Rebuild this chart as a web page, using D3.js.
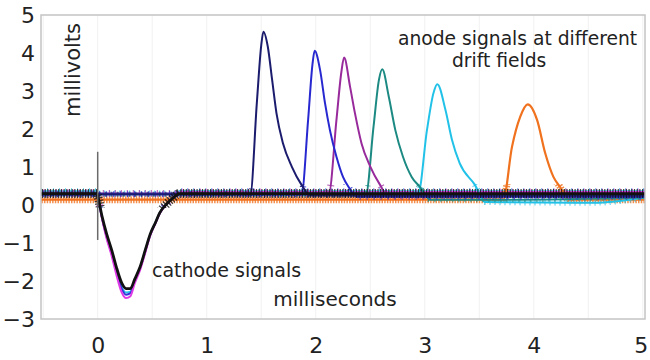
<!DOCTYPE html>
<html>
<head>
<meta charset="utf-8">
<script src="https://cdn.jsdelivr.net/npm/d3@7"></script>
<style>
  body { margin: 0; background: #fff; }
  text { font-family: "DejaVu Sans", sans-serif; fill: #222; }
</style>
</head>
<body>
<div class="chart_container"></div>
<script>
// tick labels
const xTicks = [0, 1, 2, 3, 4, 5]
const yTicks = [-3, -2, -1, 0, 1, 2, 3, 4, 5]

// anode signals (ms, mV)
const navyTime = [-0.52, 1.40, 1.46, 1.50, 1.52, 1.56, 1.60, 1.64, 1.70, 1.78, 1.87, 1.95, 5.02]
const navyMv   = [0.28, 0.28, 2.70, 4.20, 4.56, 4.17, 3.29, 2.41, 1.62, 1.01, 0.53, 0.25, 0.25]

const blueTime = [-0.52, 1.87, 1.93, 1.97, 1.99, 2.04, 2.085, 2.13, 2.19, 2.25, 2.30, 2.38, 5.02]
const blueMv   = [0.28, 0.28, 2.24, 3.70, 4.06, 3.55, 2.68, 1.97, 1.27, 0.74, 0.48, 0.22, 0.22]

const purpleTime = [-0.52, 2.12, 2.19, 2.235, 2.26, 2.315, 2.36, 2.42, 2.50, 2.59, 2.66, 5.02]
const purpleMv   = [0.30, 0.30, 2.24, 3.50, 3.88, 3.11, 2.41, 1.62, 1.01, 0.53, 0.25, 0.25]

const tealTime = [-0.52, 2.46, 2.53, 2.58, 2.61, 2.67, 2.73, 2.80, 2.88, 2.955, 3.05, 3.70, 5.02]
const tealMv   = [0.28, 0.28, 2.06, 3.30, 3.57, 2.85, 1.97, 1.27, 0.74, 0.48, 0.14, 0.14, 0.20]

const cyanTime = [-0.52, 2.94, 3.02, 3.08, 3.115, 3.19, 3.25, 3.32, 3.46, 3.55, 4.55, 5.02]
const cyanMv   = [0.30, 0.30, 1.97, 2.95, 3.18, 2.50, 1.71, 1.10, 0.53, 0.08, 0.06, 0.20]

const orangeTime = [-0.52, 3.72, 3.80, 3.875, 3.945, 4.03, 4.105, 4.18, 4.24, 4.32, 5.02]
const orangeMv   = [0.14, 0.14, 1.53, 2.32, 2.65, 2.24, 1.36, 0.74, 0.48, 0.14, 0.14]

// cathode signals (shared time axis)
const cathTime    = [-0.52, -0.005, 0, 0.04, 0.08, 0.13, 0.17, 0.22, 0.26, 0.30, 0.34, 0.39, 0.44, 0.48, 0.53, 0.57, 0.63, 0.69, 0.75, 5.02]
const cathBlack   = [0.30, 0.30, 0.25, -0.30, -0.74, -1.20, -1.62, -2.05, -2.20, -2.20, -1.95, -1.62, -1.15, -0.78, -0.46, -0.20, 0.02, 0.18, 0.30, 0.30]
const cathMagenta = [0.32, 0.32, 0.25, -0.36, -0.86, -1.36, -1.82, -2.30, -2.45, -2.40, -2.06, -1.70, -1.22, -0.82, -0.48, -0.22, 0.02, 0.18, 0.34, 0.34]
const cathBlue    = [0.26, 0.26, 0.22, -0.34, -0.82, -1.30, -1.74, -2.20, -2.36, -2.32, -2.00, -1.66, -1.18, -0.80, -0.47, -0.21, 0.02, 0.17, 0.26, 0.26]
const cathCyan    = [0.36, 0.36, 0.24, -0.32, -0.80, -1.26, -1.70, -2.16, -2.30, -2.28, -1.98, -1.64, -1.16, -0.79, -0.46, -0.20, 0.03, 0.20, 0.36, 0.36]

// trigger spike at t = 0
const spikeTime = [0, 0]
const spikeMv   = [1.40, -0.92]

const zip = (t, v) => t.map((d, i) => [d, v[i]])

// draw order: bottom first
const traces = [
  { pts: zip(cathTime, cathCyan),    color: '#2fc6ea', noise: 6, dash: '1 5', w: 2 },
  { pts: zip(cathTime, cathBlue),    color: '#3434d8', noise: 6, dash: '1 6', w: 2 },
  { pts: zip(cathTime, cathMagenta), color: '#e03ae6', noise: 7, dash: '1 5', w: 2 },
  { pts: zip(orangeTime, orangeMv),  color: '#f0721e', noise: 7, dash: '1.5 1.2', w: 2.2 },
  { pts: zip(cyanTime, cyanMv),      color: '#22c2e8', noise: 6, dash: '1 4', w: 2 },
  { pts: zip(tealTime, tealMv),      color: '#1c8a82', noise: 5, dash: '1 5', w: 2 },
  { pts: zip(purpleTime, purpleMv),  color: '#982a9c', noise: 7, dash: '1 5', w: 2 },
  { pts: zip(blueTime, blueMv),      color: '#2828d0', noise: 6, dash: '1 6', w: 2 },
  { pts: zip(navyTime, navyMv),      color: '#1c1c6e', noise: 5, dash: '1 5', w: 2 },
  { pts: zip(cathTime, cathBlack),   color: '#111111', noise: 9, dash: '1.2 1.5', w: 2.8 }
]

const svg_width = 650
const svg_height = 360

const svg = d3.select('.chart_container').append('svg')
  .attr('width', svg_width).attr('height', svg_height)

const xScale = d3.scaleLinear([-0.52, 5.02], [41, 645])
const yScale = d3.scaleLinear([-3, 5], [319, 15])

const [x0, x1] = xScale.range()
const [yb, yt] = yScale.range()

// faint grid
svg.append('g').selectAll('line')
  .data(d3.range(-0.5, 5.01, 0.5))
  .join('line')
  .attr('x1', d => xScale(d)).attr('x2', d => xScale(d))
  .attr('y1', yt).attr('y2', yb)
  .attr('stroke', '#f1f1f1').attr('stroke-width', 1)

// clip for baseline noise texture
svg.append('defs').append('clipPath').attr('id', 'band')
  .append('rect')
  .attr('x', x0).attr('width', x1 - x0)
  .attr('y', yScale(0.55)).attr('height', yScale(-0.08) - yScale(0.55))

const line = d3.line()
  .x(d => xScale(d[0]))
  .y(d => yScale(d[1]))
  .curve(d3.curveMonotoneX)

const plot = svg.append('g')

traces.forEach((tr, i) => {
  plot.append('path')
    .attr('d', line(tr.pts))
    .attr('fill', 'none')
    .attr('stroke', tr.color)
    .attr('stroke-width', tr.noise)
    .attr('stroke-dasharray', tr.dash)
    .attr('stroke-dashoffset', i * 1.7)
    .attr('opacity', 0.8)
    .attr('clip-path', 'url(#band)')
  plot.append('path')
    .attr('d', line(tr.pts))
    .attr('fill', 'none')
    .attr('stroke', tr.color)
    .attr('stroke-width', tr.w)
    .attr('stroke-linejoin', 'round')
})

plot.append('path')
  .attr('d', d3.line().x(d => xScale(d[0])).y(d => yScale(d[1]))(zip(spikeTime, spikeMv)))
  .attr('stroke', '#6a6a6a').attr('stroke-width', 1.5).attr('fill', 'none')

// frame
svg.append('rect')
  .attr('x', x0).attr('y', yt)
  .attr('width', x1 - x0).attr('height', yb - yt)
  .attr('fill', 'none').attr('stroke', '#c4c4c4').attr('stroke-width', 1.5)

// axes
const xAxis = d3.axisBottom(xScale).tickValues(xTicks).tickFormat(d3.format('d'))
  .tickSize(0).tickPadding(18)
const xAxisDraw = svg.append('g').attr('transform', `translate(0,${yb})`).call(xAxis)
const yAxis = d3.axisLeft(yScale).tickValues(yTicks).tickFormat(d3.format('d'))
  .tickSize(0).tickPadding(6)
const yAxisDraw = svg.append('g').attr('transform', `translate(${x0},0)`).call(yAxis)
;[xAxisDraw, yAxisDraw].forEach(g => {
  g.select('.domain').remove()
  g.selectAll('text').style('font-family', '"DejaVu Sans", sans-serif')
    .style('font-size', '22px').attr('fill', '#222')
})
xAxisDraw.selectAll('.tick').filter(d => d === 5).select('text').attr('dx', '-0.1em')

// annotations
svg.append('text').attr('x', 398).attr('y', 45).style('font-size', '18.7px')
  .text('anode signals at different')
svg.append('text').attr('x', 452).attr('y', 67).style('font-size', '18.7px')
  .text('drift fields')
svg.append('text').attr('x', 152).attr('y', 277).style('font-size', '19px')
  .text('cathode signals')
svg.append('text').attr('x', 335).attr('y', 306).attr('text-anchor', 'middle')
  .style('font-size', '20px').text('milliseconds')
svg.append('text').attr('transform', 'translate(80,70) rotate(-90)')
  .attr('text-anchor', 'middle').style('font-size', '21px').text('millivolts')
</script>
</body>
</html>
